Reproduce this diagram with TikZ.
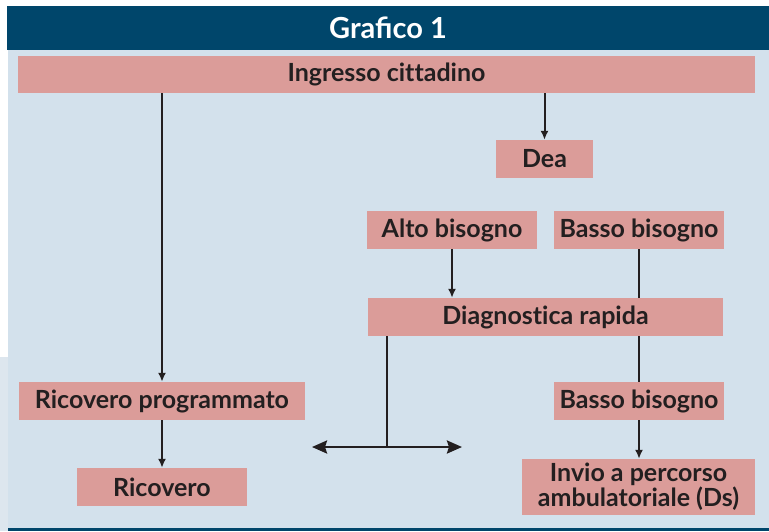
\documentclass[tikz,border=0pt]{standalone}
\usepackage{fontspec}
\setmainfont{Lato}
\newfontfamily\boxfont{Lato}[Ligatures=NoCommon]
\usetikzlibrary{arrows.meta}
\definecolor{hdr}{HTML}{00466B}
\definecolor{panel}{HTML}{D3E1EC}
\definecolor{strip}{HTML}{DDE6EE}
\definecolor{pink}{HTML}{DB9C99}
\definecolor{ink}{HTML}{231F20}
\tikzset{
  box/.style={rectangle, fill=pink, inner sep=0pt, text=ink, font=\boxfont\fontsize{25}{25}\selectfont\bfseries, align=center},
  conn/.style={draw=ink, line width=2pt},
  arr/.style={conn, -{Latex[length=9pt,width=8pt]}},
  dbl/.style={draw=ink, line width=2.4pt, {Stealth[length=15pt,width=13pt,inset=2pt]}-{Stealth[length=15pt,width=13pt,inset=2pt]}}
}
\begin{document}
\begin{tikzpicture}[x=1pt,y=-1pt]
\useasboundingbox (0,0) rectangle (769,531);
\fill[white] (0,0) rectangle (769,531);
\fill[strip] (0,357) rectangle (8,531);
\fill[panel] (8,50) rectangle (769,528);
\fill[hdr] (7,6) rectangle (769,50);
\fill[hdr] (8,528) rectangle (769,531);
\node[text=white, font=\fontsize{29}{30}\selectfont\bfseries] (title) at (388,28) {Grafico 1};

\node[box, minimum width=737pt, minimum height=37pt] (ing) at (386.5,74.5) {Ingresso cittadino};
\node[box, minimum width=97pt, minimum height=38pt] (dea) at (544.5,159) {Dea};
\node[box, minimum width=170pt, minimum height=38pt] (alto) at (452,230) {Alto bisogno};
\node[box, minimum width=170pt, minimum height=38pt] (bb1) at (639,230) {Basso bisogno};
\node[box, minimum width=355pt, minimum height=38pt] (diag) at (545.5,317) {Diagnostica rapida};
\node[box, minimum width=286pt, minimum height=38pt] (rp) at (162,401) {Ricovero programmato};
\node[box, minimum width=170pt, minimum height=38pt] (ric) at (162,487) {Ricovero};
\node[box, minimum width=170pt, minimum height=38pt] (bb2) at (639,401) {Basso bisogno};
\node[box, minimum width=233pt, minimum height=56pt, font=\boxfont\fontsize{25}{21}\selectfont\bfseries] (inv) at (638.5,487) {Invio a percorso\\ambulatoriale (Ds)};

\coordinate (t) at (387,447);
\coordinate (l) at (312,447);
\coordinate (r) at (462,447);

\draw[arr] (ing.south -| rp.north) -- (rp.north);
\draw[arr] (ing.south -| dea.north) -- (dea.north);
\draw[arr] (rp.south) -- (ric.north);
\draw[arr] (alto.south) -- (alto.south |- diag.north);
\draw[conn] (bb1.south) -- (bb1.south |- diag.north);
\draw[conn] (diag.south -| bb2.north) -- (bb2.north);
\draw[arr] (bb2.south) -- (bb2.south |- inv.north);
\draw[conn] (diag.south -| t) -- (t);
\draw[dbl] (l) -- (r);
\end{tikzpicture}
\end{document}
